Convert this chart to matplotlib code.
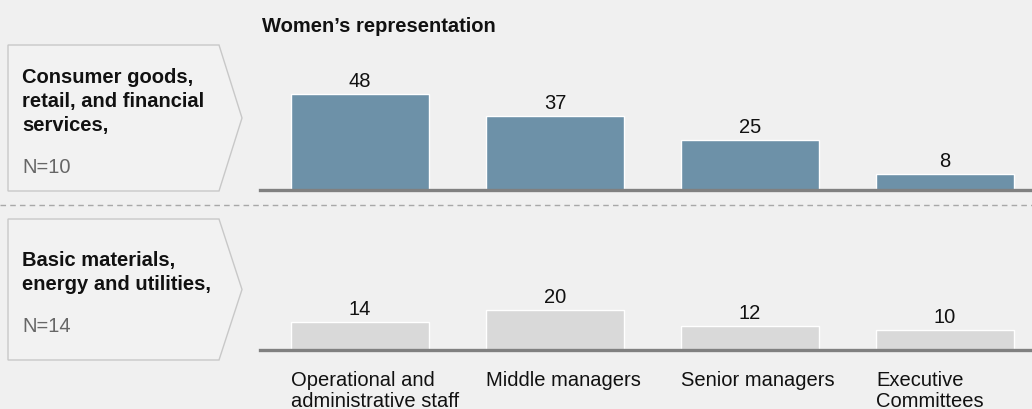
import matplotlib.pyplot as plt
from matplotlib.patches import Polygon
from matplotlib.lines import Line2D

plt.rcParams['font.family'] = ['Liberation Sans', 'DejaVu Sans']

categories = ['Operational and\nadministrative staff', 'Middle managers',
              'Senior managers', 'Executive\nCommittees']
consumer = [48, 37, 25, 8]
basic = [14, 20, 12, 10]
group_names = ['Consumer goods,\nretail, and financial\nservices,',
               'Basic materials,\nenergy and utilities,']
group_n = ['N=10', 'N=14']

W, H = 1032, 410
bg = '#f0f0f0'
fs = 14.5
fig = plt.figure(figsize=(W / 100, H / 100), dpi=100, facecolor=bg)


def fx(px):
    return px / W


def fy(py):
    return 1 - py / H


# 2 px per unit, bar spacing 195 px, first centre at x=360
x0, x1 = 260, 1032
spacing = 195.0
lo = -(360 - x0) / spacing
hi = lo + (x1 - x0) / spacing
bw = 138 / spacing


def make_axes(base_y, values, color):
    ax = fig.add_axes([fx(x0), fy(base_y), fx(x1 - x0), 110 / H])
    ax.set_facecolor('none')
    ax.set_xlim(lo, hi)
    ax.set_ylim(0, 55)
    xs = range(len(values))
    ax.bar(xs, values, width=bw, color=color, edgecolor='white', linewidth=1)
    for i, v in zip(xs, values):
        ax.text(i, v + 4, str(v), ha='center', va='baseline', fontsize=fs, color='#111111')
    for s in ['top', 'right', 'left']:
        ax.spines[s].set_visible(False)
    ax.spines['bottom'].set_color('#808080')
    ax.spines['bottom'].set_linewidth(2.4)
    ax.set_xticks([])
    ax.set_yticks([])
    return ax


ax1 = make_axes(191, consumer, '#6d91a8')
ax2 = make_axes(351, basic, '#d9d9d9')

# category labels, one line at a time (10.5 units = 21 px line step)
for i, c in enumerate(categories):
    for k, line in enumerate(c.split('\n')):
        ax2.text(i - bw / 2, -17.5 - 10.5 * k, line, ha='left', va='baseline',
                 fontsize=fs, color='#111111', clip_on=False)

fig.text(fx(262), fy(32), 'Women\u2019s representation', fontsize=fs,
         fontweight='bold', ha='left', va='baseline', color='#111111')

# dashed separator
fig.add_artist(Line2D([0, 1], [fy(206), fy(206)], transform=fig.transFigure,
                      color='#a8a8a8', lw=1, ls=(0, (4, 3))))

# chevron boxes
boxes = [(46, 192), (220, 361)]
for (top, bot) in boxes:
    mid = (top + bot) / 2
    pts = [(8, top), (219, top), (242, mid), (219, bot), (8, bot)]
    fig.add_artist(Polygon([(fx(a), fy(b)) for a, b in pts], closed=True,
                           transform=fig.transFigure, facecolor='#f2f2f2',
                           edgecolor='#c8c8c8', lw=1))

first_baseline = [83, 266]
n_baseline = [173, 332]
for name, n, b0, nb in zip(group_names, group_n, first_baseline, n_baseline):
    for k, line in enumerate(name.split('\n')):
        fig.text(fx(22), fy(b0 + 24 * k), line, fontsize=fs, fontweight='bold',
                 ha='left', va='baseline', color='#111111')
    fig.text(fx(22), fy(nb), n, fontsize=fs, ha='left', va='baseline',
             color='#666666')

fig.savefig('out.png', dpi=100, facecolor=bg)
